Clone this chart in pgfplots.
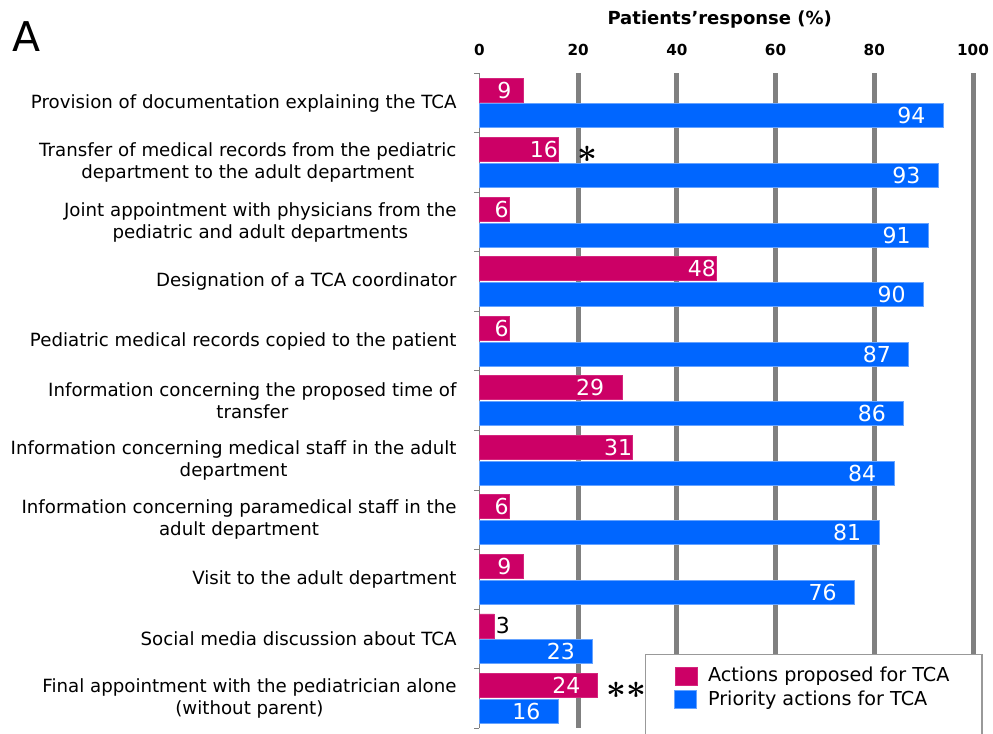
\documentclass[border=0pt]{standalone}
\usepackage{fontspec}
\setmainfont{DejaVu Sans}
\usepackage{amsmath}
\usepackage{pgfplots}
\usepackage{pgfplotstable}
\pgfplotsset{compat=1.18}
\definecolor{mag}{RGB}{204,0,102}
\definecolor{blu}{RGB}{0,102,255}
\definecolor{gridg}{RGB}{128,128,128}
\newcommand\gap[2]{#1\hspace*{#2pt}}
\newcommand\outside[1]{\makebox[0pt][l]{\hspace*{1.5pt}\color{black}#1}}

% y = category index - 0.218 (upper bar of each pair)
\pgfplotstableread{
y x lab
-0.218 9 \gap{9}{6}
0.782 16 16
1.782 6 6
2.782 48 48
3.782 6 6
4.782 29 \gap{29}{9}
5.782 31 31
6.782 6 6
7.782 9 \gap{9}{6}
8.782 3 \outside{3}
9.782 24 \gap{24}{8.5}
}\proposed

% y = category index + 0.218 (lower bar of each pair)
\pgfplotstableread{
y x
0.218 94
1.218 93
2.218 91
3.218 90
4.218 87
5.218 86
6.218 84
7.218 81
8.218 76
9.218 23
10.218 16
}\priority

\begin{document}
\begin{tikzpicture}
\begin{axis}[
  scale only axis, width=246.8pt, height=327.5pt,
  xmin=0, xmax=100, ymin=-0.5, ymax=10.5, y dir=reverse,
  clip=false,
  /pgf/number format/assume math mode=true,
  axis x line=top, axis y line=left,
  x axis line style={draw=none},
  y axis line style={draw=gray, line width=0.5pt, -},
  xtick={20,40,60,80,100},
  extra x ticks={0},
  extra x tick style={grid=none},
  xmajorgrids,
  major grid style={draw=gridg, line width=2.5pt},
  major x tick style={draw=none},
  xticklabel style={font=\bfseries\fontsize{7.6}{9}\selectfont, inner sep=0pt, anchor=base, yshift=4.4pt},
  ytick={0,...,10},
  minor ytick={-0.5,0.5,...,10.5},
  major y tick style={draw=none},
  minor y tick style={draw=gray, line width=0.5pt},
  minor tick length=2.5pt,
  tick align=outside,
  yticklabels={
    {Provision of documentation explaining the TCA},
    {Transfer of medical records from the pediatric\\department to the adult department},
    {Joint appointment with physicians from the\\pediatric and adult departments},
    {Designation of a TCA coordinator},
    {Pediatric medical records copied to the patient},
    {Information concerning the proposed time of\\transfer},
    {Information concerning medical staff in the adult\\department},
    {Information concerning paramedical staff in the\\adult department},
    {Visit to the adult department},
    {Social media discussion about TCA},
    {Final appointment with the pediatrician alone\\(without parent)}
  },
  yticklabel style={font=\fontsize{9.1}{11}\selectfont, align=center, inner sep=0pt, anchor=east, xshift=-7pt},
  xbar, bar width=12pt, bar shift=0pt,
  legend style={at={(0.336,0.1137)}, anchor=north west, draw=gray!80, line width=0.6pt, fill=white,
    font=\fontsize{9.6}{11}\selectfont, inner xsep=14.3pt, inner ysep=5pt, row sep=0pt,
    nodes={inner ysep=1.5pt, inner xsep=2pt},
    /tikz/every odd column/.append style={column sep=3.3pt}},
  legend cell align=left,
  legend image code/.code={\fill[#1] (0pt,-4.5pt) rectangle (11pt,4.5pt);},
]
\addplot[fill=mag, draw=mag!85!white, line width=0.4pt,
  point meta=explicit symbolic,
  nodes near coords,
  every node near coord/.append style={anchor=east, text=white,
    inner sep=0pt, font=\fontsize{11}{12}\selectfont}]
  table[x=x, y=y, meta=lab] {\proposed};
\addlegendentry{Actions proposed for TCA}
\addplot[fill=blu, draw=blu!60!white, line width=0.5pt,
  point meta=x,
  nodes near coords,
  every node near coord/.append style={anchor=east, xshift=-8.75pt, text=white,
    inner sep=0pt, font=\fontsize{11}{12}\selectfont}]
  table[x=x, y=y] {\priority};
\addlegendentry{Priority actions for TCA}
\addlegendimage{empty legend}
\addlegendentry{\strut}

\node[anchor=west, inner sep=0pt, font=\fontsize{16.5}{18}\selectfont] at (axis cs:19.8,0.858) {$\boldsymbol{\ast}$};
\node[anchor=west, inner sep=0pt, font=\fontsize{16.5}{18}\selectfont] at (axis cs:25.7,9.858) {$\boldsymbol{\ast\ast}$};

\node[anchor=base, inner sep=0pt, xshift=-3.25pt, yshift=24.5pt, font=\bfseries\fontsize{9}{10}\selectfont]
  at (axis description cs:0.5,1) {Patients’response (\%)};
\node[anchor=base west, inner sep=0pt, font=\fontsize{20.5}{24}\selectfont]
  at (axis description cs:-0.947,1.0328) {A};

\coordinate (bbA) at (axis description cs:-0.9712,1.1118);
\coordinate (bbB) at (axis description cs:1.0405,-0.00733);
\end{axis}
\pgfresetboundingbox
\path[use as bounding box] (bbA) rectangle (bbB);
\end{tikzpicture}
\end{document}
